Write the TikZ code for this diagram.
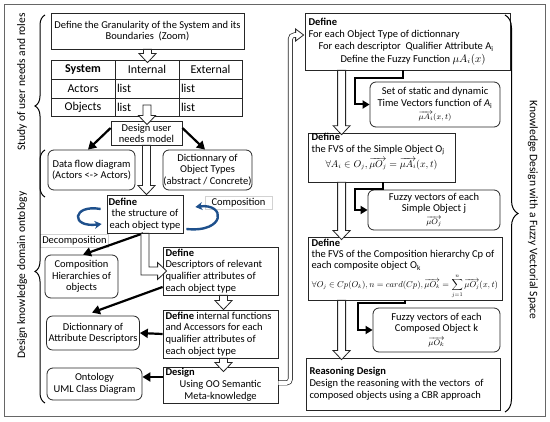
\documentclass[tikz,border=0pt]{standalone}
\usepackage{fontspec}
\usepackage{graphicx}
\setmainfont{Carlito}
\usetikzlibrary{arrows.meta,decorations.pathreplacing,calc}
\newcommand\blkdown[2]{\path[blk] let \p1=(#1), \p2=(#2) in (\x1-4pt,\y1) -- (\x1-4pt,\y2+9pt) -- (\x1-8.5pt,\y2+9pt) -- (\x1,\y2) -- (\x1+8.5pt,\y2+9pt) -- (\x1+4pt,\y2+9pt) -- (\x1+4pt,\y1) -- cycle;}
\newcommand\fm{\fontsize{8pt}{9pt}\selectfont}
\newcommand\lb[2]{\makebox[#1][l]{#2}}
\newcommand\cb[2]{\makebox[#1][c]{#2}}
\begin{document}
\begin{tikzpicture}[x=1pt,y=-1pt,
  font=\fontsize{10.5pt}{11.8pt}\selectfont,
  box/.style={draw=black!85, line width=0.8pt, rectangle, inner xsep=2pt, inner ysep=0pt, fill=white},
  rbox/.style={box, rounded corners=6pt, align=center, font=\fontsize{10.5pt}{11.5pt}\selectfont},
  lbl/.style={draw=gray!35, line width=0.6pt, inner xsep=2pt, inner ysep=1pt, fill=white},
  cell/.style={draw=black!85, line width=0.8pt, minimum height=19pt, minimum width=64pt, inner sep=2pt, font=\fontsize{12pt}{14pt}\selectfont},
  blk/.style={draw=black!85, line width=0.8pt, fill=white, line join=miter},
  thk/.style={draw=black, line width=2.2pt, -{Triangle[length=8pt,width=9pt]}},
  elb/.style={draw=black, line width=2pt, -{Triangle[length=7pt,width=8pt]}},
  blu/.style={draw={rgb,255:red,30;green,80;blue,140}, line width=2.4pt, -{Stealth[length=7pt,width=8pt]}},
  pipe/.style={draw=black!85, line width=0.7pt, double=white, double distance=3.6pt, rounded corners=4pt},
  brc/.style={draw=black, line width=1pt, decorate},
  side/.style={font=\fontsize{11.5pt}{13pt}\selectfont}
]
\useasboundingbox (0,0) rectangle (550,422);
\fill[white] (0,0) rectangle (550,422);
\draw[draw=black!60, line width=0.8pt] (4,4) rectangle (545,416);

% ---------- left column ----------
\node[box, minimum width=193pt, minimum height=36pt, align=center] (gran) at (147.5,31)
  {Define the Granularity of the System and its\\Boundaries~ (Zoom)};

\node[cell] (t11) at (83,69.5) {\textbf{System}};
\node[cell] (t12) at (147,69.5) {Internal};
\node[cell, minimum width=63pt] (t13) at (210.5,69.5) {External};
\node[cell] (t21) at (83,88.5) {Actors};
\node[cell, text width=60pt, align=left] (t22) at (147,88.5) {list};
\node[cell, minimum width=63pt, text width=59pt, align=left] (t23) at (210.5,88.5) {list};
\node[cell, minimum height=18pt] (t31) at (83,107) {Objects};
\node[cell, minimum height=18pt, text width=60pt, align=left] (t32) at (147,107) {list};
\node[cell, minimum height=18pt, minimum width=63pt, text width=59pt, align=left] (t33) at (210.5,107) {list};

\node[box, minimum width=71pt, minimum height=24pt, align=center, font=\fontsize{10.5pt}{11pt}\selectfont] (need) at (146.5,133) {Design user\\needs model};

\node[rbox, minimum width=87pt, minimum height=40pt] (dfd) at (91.5,170) {Data flow diagram\\(Actors <-> Actors)};
\node[rbox, minimum width=89pt, minimum height=40pt, inner xsep=0.5pt] (dot) at (207.5,170) {Dictionnary of\\Object Types\\(abstract / Concrete)};

\node[box, minimum width=76pt, minimum height=38pt, align=center, inner xsep=1pt, font=\fontsize{10.5pt}{11.5pt}\selectfont] (struct) at (145,214)
  {\lb{73pt}{\textbf{Define}}\\the structure of\\each object type};

\node[lbl, minimum width=67pt, minimum height=13pt] (complbl) at (238.5,203) {Composition};
\node[lbl, minimum height=13pt] (decomp) at (74.5,240.5) {Decomposition};

\node[rbox, minimum width=73pt, minimum height=43pt] (chier) at (81.5,276.5) {Composition\\Hierarchies of\\objects};

\node[box, minimum width=115pt, minimum height=48pt, align=left] (desc) at (220.5,271)
  {\lb{110pt}{\textbf{Define}}\\Descriptors of relevant\\qualifier attributes of\\each object type};

\node[rbox, minimum width=92pt, minimum height=34pt] (dad) at (93,333) {Dictionnary of\\Attribute Descriptors};

\node[box, minimum width=115pt, minimum height=48pt, align=left] (internal) at (220.5,334)
  {\lb{110pt}{\textbf{Define} internal functions}\\and Accessors for each\\qualifier attributes of\\each object type};

\node[box, minimum width=115pt, minimum height=36pt, align=left] (design) at (220.5,385)
  {\lb{110pt}{\textbf{Design}}\\\cb{110pt}{Using OO Semantic}\\\cb{110pt}{Meta-knowledge}};

\node[rbox, minimum width=95pt, minimum height=32pt] (onto) at (94.5,384) {Ontology\\UML Class Diagram};

% ---------- right column ----------
\node[box, minimum width=205pt, minimum height=57pt, align=left, inner xsep=3pt, font=\fontsize{10.5pt}{12.2pt}\selectfont] (def1) at (407.5,41.5)
  {\lb{198pt}{\textbf{Define}}\\For each Object Type of dictionnary\\\hspace*{10pt}For each descriptor~ Qualifier Attribute A\textsubscript{i}\\\hspace*{32pt}Define the Fuzzy Function $\mu A_i(x)$};

\node[rbox, minimum width=130pt, minimum height=45pt] (set1) at (435,104.5)
  {Set of static and dynamic\\Time Vectors function of \textit{A}\textsubscript{i}\\[1.5pt]{\fm$\overrightarrow{\mu A_i}(x,t)$}};

\node[box, minimum width=147pt, minimum height=45pt, align=left, inner xsep=3pt] (fvs) at (381.5,157.5)
  {\lb{140pt}{\textbf{Define}}\\the FVS of the Simple Object O\textsubscript{j}\\[1.5pt]\cb{140pt}{\resizebox{112pt}{!}{$\forall A_i\in O_j, \overrightarrow{\mu O_j}=\overrightarrow{\mu A_i}(x,t)$}}\\[3pt]\mbox{}};

\node[rbox, minimum width=132pt, minimum height=40pt, font=\fontsize{10.5pt}{11pt}\selectfont] (fz1) at (434,210)
  {Fuzzy vectors of each\\Simple Object j\\[1.5pt]{\fm$\overrightarrow{\mu O_j}$}};

\node[box, minimum width=194pt, minimum height=63pt, align=left, inner xsep=3pt, font=\fontsize{10.5pt}{11.4pt}\selectfont] (cmp) at (405,268.5)
  {\lb{187pt}{\textbf{Define}}\\the FVS of the Composition hierarchy Cp of\\each composite object O\textsubscript{k}\\[2.5pt]\cb{187pt}{\resizebox{186pt}{!}{$\forall O_j\in Cp(O_k), n=card(Cp), \overrightarrow{\mu O_k}=\displaystyle\sum\limits_{j=1}^{n}\overrightarrow{\mu O_j}(x,t)$}}};

\node[rbox, minimum width=127pt, minimum height=44pt] (fz2) at (436.5,330)
  {Fuzzy vectors of each\\Composed Object k\\[2pt]{\fm$\overrightarrow{\mu O_k}$}};

\node[box, minimum width=194pt, minimum height=52pt, align=left, inner xsep=3pt] (reas) at (403,384)
  {\lb{187pt}{\textbf{Reasoning Design}}\\Design the reasoning with the vectors~ of\\composed objects using a CBR approach};

% ---------- thick arrows ----------
\draw[thk] ([yshift=5pt]need.west) -- ([xshift=-3.5pt]dfd.north);
\draw[thk] ([yshift=5pt]need.east) -- ([xshift=-2.5pt]dot.north);
\draw[thk] ([xshift=-2pt]struct.south) -- ([xshift=1.5pt]chier.north);
\draw[thk] ([yshift=-16pt]desc.west) -- ([xshift=-1pt,yshift=3pt]dad.north);
\draw[thk] (internal.west) -- (dad.east);
\draw[thk] ([yshift=8pt]design.west) -- ([yshift=8pt]design.west -| onto.east);

\draw[elb] ([xshift=98pt]def1.south west) |- ++(-48,8) |- (set1.west);
\draw[elb] ([xshift=75pt]fvs.south west) |- ++(-28,7) |- (fz1.west);
\draw[elb] ([xshift=97pt]cmp.south west) |- ++(-47,3) |- (fz2.west);

% ---------- blue loops ----------
\draw[blu] ([shift={(-6pt,5pt)}]struct.west) .. controls (72,204) and (70,228) .. ([shift={(-5pt,-10pt)}]struct.west);
\draw[blu] ([shift={(3pt,-15pt)}]struct.east) .. controls (226,233) and (226,203) .. ([shift={(12pt,7pt)}]struct.east);

% ---------- hollow block arrows ----------
\blkdown{gran.south}{[yshift=-3pt]t12.north}
\blkdown{[yshift=2pt]t32.center}{[yshift=-4pt]need.north}
\blkdown{need.south}{struct.north}
\path[blk] let \p1=(struct.south), \p2=(desc.west) in
  (\x1-4pt,\y1) -- (\x1-4pt,\y2-4pt) -- (\x2-5pt,\y2-4pt) -- (\x2-5pt,\y2-8.5pt) -- (\x2+4pt,\y2)
  -- (\x2-5pt,\y2+8.5pt) -- (\x2-5pt,\y2+4pt) -- (\x1+4pt,\y2+4pt) -- (\x1+4pt,\y1) -- cycle;
\blkdown{[xshift=3pt]desc.south}{internal.north}
\blkdown{[xshift=3pt]internal.south}{[yshift=-5pt]design.north}
\blkdown{[xshift=37pt]def1.south west}{[yshift=-2pt]fvs.north}
\blkdown{[xshift=34pt]fvs.south west}{[yshift=-3pt]cmp.north}
\blkdown{[xshift=34pt]cmp.south west}{[yshift=-2pt]reas.north}

% pipe from Design to the first Define of the right column
\draw[pipe] ([yshift=2pt]design.east) -- ++(12,0) |- ([xshift=-7pt,yshift=6.5pt]def1.west);
\path[blk] let \p1=([xshift=-1pt,yshift=6.5pt]def1.west) in
  (\x1-8pt,\y1+2.2pt) -- (\x1-8pt,\y1+6pt) -- (\x1,\y1) -- (\x1-8pt,\y1-6pt) -- (\x1-8pt,\y1-2.2pt);

% ---------- braces and side labels ----------
\draw[brc, decoration={brace, amplitude=10pt}] (45,197) -- (45,15);
\draw[brc, decoration={brace, amplitude=10pt, aspect=0.52}] (45,403) -- (45,150);
\draw[brc, decoration={brace, amplitude=13pt}] (505,15) -- (505,412);
\node[side, rotate=90] (lab1) at (22,82) {Study of user needs and roles};
\node[side, rotate=90] (lab2) at (22,275) {Design knowledge domain ontology};
\node[side, rotate=-90] (lab3) at (533,210) {Knowledge Design with a Fuzzy Vectorial Space};
\end{tikzpicture}
\end{document}
